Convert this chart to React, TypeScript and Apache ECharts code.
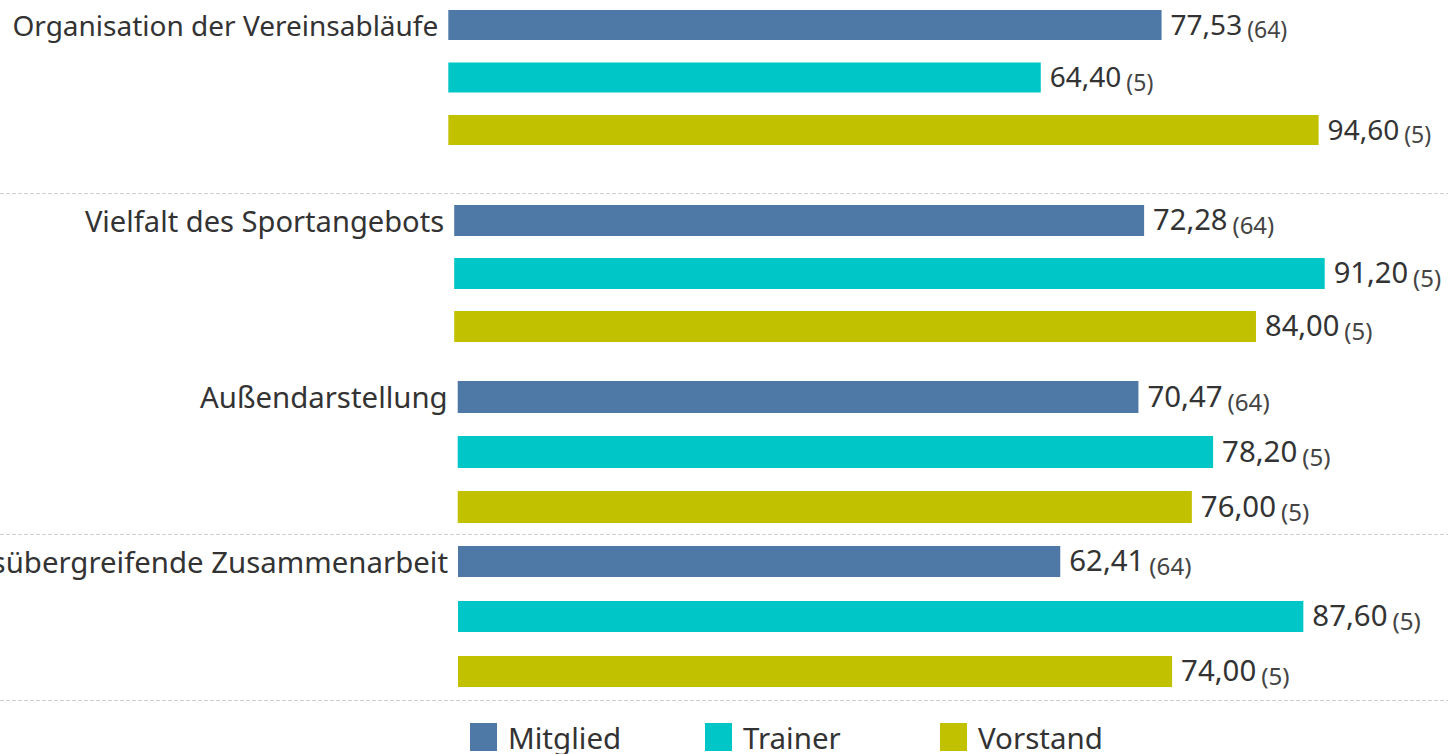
import React, { useEffect, useRef } from "react";
import * as echarts from "echarts";

const groups = [
  "Organisation der Vereinsabläufe",
  "Vielfalt des Sportangebots",
  "Außendarstellung",
  "Abteilungsübergreifende Zusammenarbeit",
];
const roles = ["Mitglied", "Trainer", "Vorstand"];
const mitglied = [77.53, 72.28, 70.47, 62.41];
const trainer = [64.4, 91.2, 78.2, 87.6];
const vorstand = [94.6, 84.0, 76.0, 74.0];
const nMitglied = [64, 64, 64, 64];
const nTrainer = [5, 5, 5, 5];
const nVorstand = [5, 5, 5, 5];

const roleValues = [mitglied, trainer, vorstand];
const roleCounts = [nMitglied, nTrainer, nVorstand];
const roleColors = ["#4E79A7", "#00C6C7", "#C2C100"];

// layout of each group panel (the source picture stitches panels of slightly different scale)
const panels = [
  { top: -1.25, height: 157.5, left: 448.3, width: 920, bar: 30, k: 1.0 },
  { top: 194, height: 159, left: 454.2, width: 954.5, bar: 31, k: 1.04 },
  { top: 369.5, height: 165, left: 457.7, width: 966, bar: 32, k: 1.05 },
  { top: 534, height: 165, left: 458, width: 965, bar: 31, k: 1.05 },
];

const FONT = "'Noto Sans', 'DejaVu Sans', sans-serif";
const TEXT = "#333333";

export default function App() {
  const ref = useRef<HTMLDivElement>(null);
  useEffect(() => {
    if (!ref.current) return;
    const chart = echarts.init(ref.current, null, { renderer: "svg" });

    const grid: any[] = [];
    const xAxis: any[] = [];
    const yAxis: any[] = [];
    const series: any[] = [];

    panels.forEach((p, g) => {
      grid.push({
        top: p.top,
        height: p.height,
        left: p.left,
        width: p.width,
        containLabel: false,
        outerBoundsMode: "none",
      });
      xAxis.push({
        gridIndex: g,
        type: "value",
        min: 0,
        max: 100,
        show: false,
      });
      yAxis.push({
        gridIndex: g,
        type: "category",
        data: roles,
        inverse: true,
        axisLine: { show: false },
        axisTick: { show: false },
        splitLine: { show: false },
        axisLabel: {
          margin: 10,
          fontSize: 28 * p.k,
          fontFamily: FONT,
          color: TEXT,
          formatter: (_v: string, i: number) => (i === 0 ? groups[g] : ""),
        },
      });
      roles.forEach((role, r) => {
        const data = roles.map((_, idx) => (idx === r ? roleValues[r][g] : "-"));
        series.push({
          type: "bar",
          name: role,
          xAxisIndex: g,
          yAxisIndex: g,
          data,
          barWidth: p.bar,
          barGap: "-100%",
          itemStyle: { color: roleColors[r] },
          label: {
            show: true,
            position: "right",
            distance: 9,
            formatter: (prm: any) =>
              `{v|${Number(prm.value).toFixed(2).replace(".", ",")}}{n|(${roleCounts[r][g]})}`,
            rich: {
              v: {
                fontSize: 28 * p.k,
                fontFamily: FONT,
                color: TEXT,
                verticalAlign: "bottom",
                padding: [0, 0, 3, 0],
              },
              n: {
                fontSize: 23 * p.k,
                fontFamily: FONT,
                color: "#444444",
                padding: [0, 0, 0, 5],
                verticalAlign: "bottom",
              },
            },
          },
        });
      });
    });

    const legendLefts = [470, 705, 940];
    const legend = roles.map((role, r) => ({
      data: [role],
      left: legendLefts[r],
      top: 722,
      itemWidth: 27,
      itemHeight: 28,
      icon: "rect",
      padding: 0,
      selectedMode: false,
      textStyle: {
        fontSize: 29.5,
        lineHeight: 28,
        fontFamily: FONT,
        color: TEXT,
        padding: [0, 0, 0, 6],
      },
    }));

    const sepYs = [193.5, 534.5, 700.5];
    const graphic = sepYs.map((y) => ({
      type: "line",
      shape: { x1: 0, y1: y, x2: 1448, y2: y },
      style: { stroke: "#cfcfcf", lineWidth: 1, lineDash: [4, 2] },
      silent: true,
    }));

    chart.setOption({
      animation: false,
      backgroundColor: "#ffffff",
      grid,
      xAxis,
      yAxis,
      series,
      legend,
      graphic,
    });
    return () => chart.dispose();
  }, []);
  return (
    <div
      ref={ref}
      style={{ position: "fixed", left: 0, top: 0, width: 1448, height: 754, background: "#fff" }}
    />
  );
}
